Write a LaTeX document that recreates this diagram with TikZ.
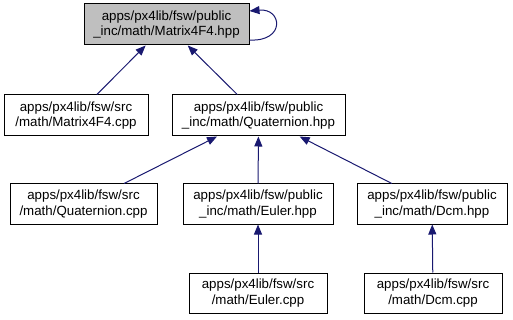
\documentclass[tikz,border=0pt]{standalone}
\usepackage{fontspec}
\setmainfont{Liberation Sans}
\usetikzlibrary{arrows.meta}
\definecolor{edgeblue}{HTML}{191970}
\definecolor{rootgray}{HTML}{BFBFBF}
\begin{document}
\begin{tikzpicture}[x=1pt,y=-1pt,
  file/.style={draw=black,line width=1pt,fill=white,rectangle,inner sep=0pt,
    minimum height=41pt,align=center,
    font=\fontsize{13.3}{15.5}\selectfont},
  root/.style={file,fill=rootgray},
  dep/.style={draw=edgeblue,line width=1pt,-{Triangle[length=10pt,width=8pt]}}]
\useasboundingbox (0,0) rectangle (513,320);

% header files and sources, one row per include level
\node[root,minimum width=165pt] (mh) at (166.5,24.5) {apps/px4lib/fsw/public\\\_inc/math/Matrix4F4.hpp};
\node[file,minimum width=144pt] (mc) at (76,115.5) {apps/px4lib/fsw/src\\/math/Matrix4F4.cpp};
\node[file,minimum width=173pt] (qh) at (258.5,115.5) {apps/px4lib/fsw/public\\\_inc/math/Quaternion.hpp};
\node[file,minimum width=147pt,minimum height=40pt] (qc) at (83.5,204) {apps/px4lib/fsw/src\\/math/Quaternion.cpp};
\node[file,minimum width=150pt,minimum height=40pt] (eh) at (258,204) {apps/px4lib/fsw/public\\\_inc/math/Euler.hpp};
\node[file,minimum width=150pt,minimum height=40pt] (dh) at (432,204) {apps/px4lib/fsw/public\\\_inc/math/Dcm.hpp};
\node[file,minimum width=138pt,minimum height=40pt] (ec) at (258,293) {apps/px4lib/fsw/src\\/math/Euler.cpp};
\node[file,minimum width=138pt,minimum height=40pt] (dc) at (433,293) {apps/px4lib/fsw/src\\/math/Dcm.cpp};

% include relations
\draw[dep] (mc) -- (mh);
\draw[dep] (qh) -- (mh);
\draw[dep] (qc) -- (qh);
\draw[dep] (eh) -- (qh);
\draw[dep] (dh) -- (qh);
\draw[dep] (ec) -- (eh);
\draw[dep] (dc) -- (dh);

% self-inclusion loop on the right side of the root header
\coordinate (loopout) at ([yshift=-15.5pt]mh.east);
\coordinate (loopin) at ([yshift=13.5pt]mh.east);
\draw[dep] (loopout) .. controls +(36,2) and +(33,-3) .. (loopin);
\end{tikzpicture}
\end{document}
